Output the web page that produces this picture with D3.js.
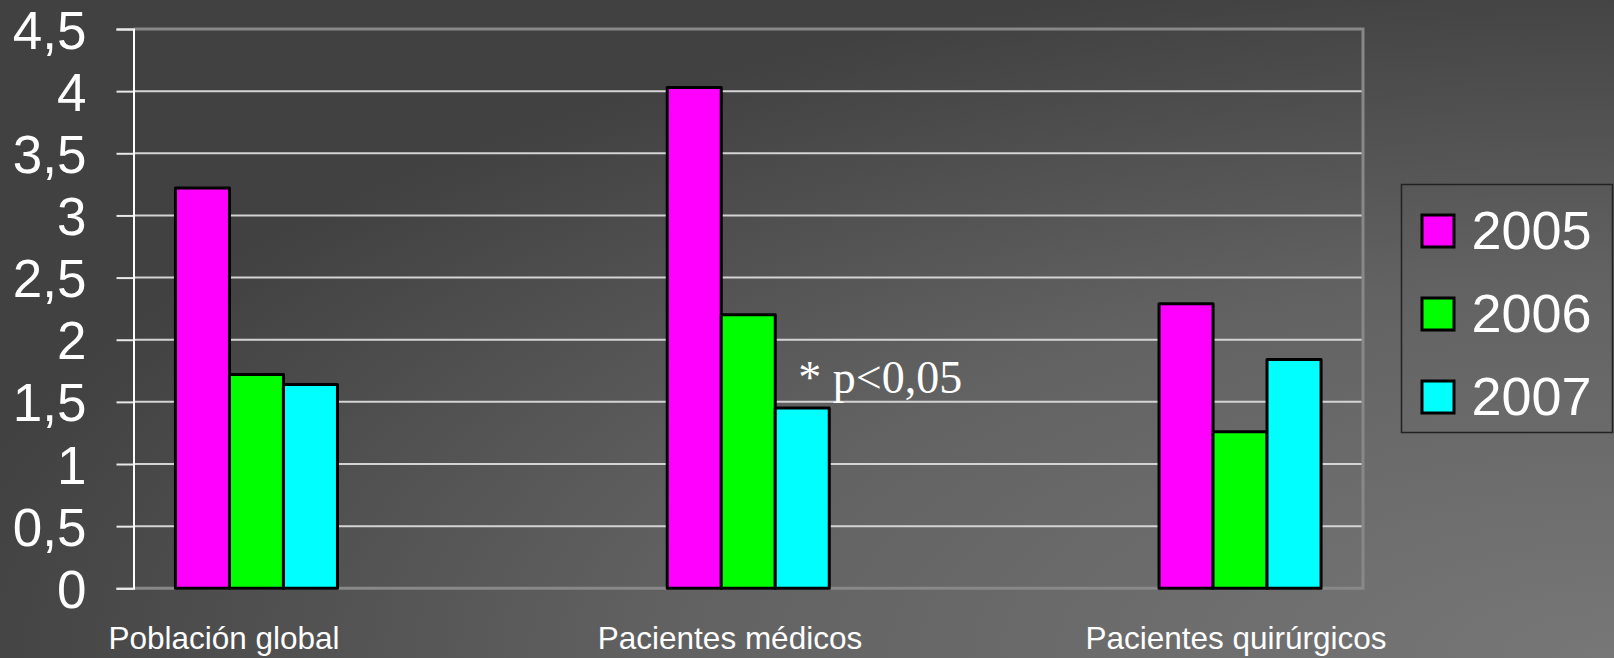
<!DOCTYPE html>
<html>
<head>
<meta charset="utf-8">
<script src="https://cdn.jsdelivr.net/npm/d3@7"></script>
<style>
  html, body { margin: 0; padding: 0; overflow: hidden; }
  body { width: 1614px; height: 658px; }
  text { font-family: "Liberation Sans", Arial, sans-serif; fill: #fff; }
</style>
</head>
<body>
<div id="chart"></div>
<script>
// data
var categories = ["Población global", "Pacientes médicos", "Pacientes quirúrgicos"];
var years = ["2005", "2006", "2007"];
var values2005 = [3.22, 4.03, 2.29];
var values2006 = [1.72, 2.20, 1.26];
var values2007 = [1.64, 1.45, 1.84];
var yTicks = [0, 0.5, 1, 1.5, 2, 2.5, 3, 3.5, 4, 4.5];
var colours = ["#ff00ff", "#00ff00", "#00ffff"];
var note = "* p<0,05";

var width = 1614, height = 658;
var plotLeft = 133.5, plotRight = 1363, plotTop = 29, plotBottom = 588.3;
var barW = 54;

var svg = d3.select("#chart").append("svg")
  .attr("width", width)
  .attr("height", height);

// background
var defs = svg.append("defs");
var grad = defs.append("radialGradient")
  .attr("id", "bg")
  .attr("cx", 1).attr("cy", 1).attr("r", 1.05)
  .attr("fx", 1).attr("fy", 1);
grad.append("stop").attr("offset", 0).attr("stop-color", "#777777");
grad.append("stop").attr("offset", 0.55).attr("stop-color", "#626262");
grad.append("stop").attr("offset", 1).attr("stop-color", "#414141");

svg.append("rect")
  .attr("width", width).attr("height", height)
  .attr("fill", "url(#bg)");

// scales
var x = d3.scalePoint().domain(categories).range([plotLeft, plotRight]).padding(0.25);
var labelX = d3.scalePoint().domain(categories).range([224, 1236]);
var y = d3.scaleLinear().domain([0, 4.5]).range([plotBottom, plotTop]);
var colour = d3.scaleOrdinal().domain(years).range(colours);

var series = [values2005, values2006, values2007];
var rows = [];
categories.forEach(function(c, i) {
  years.forEach(function(yr, j) {
    rows.push({cat: c, year: yr, idx: j, value: series[j][i]});
  });
});

// gridlines
svg.append("g").attr("class", "grid")
  .selectAll("line")
  .data(yTicks.filter(function(d) { return d > 0 && d < 4.5; }))
  .enter().append("line")
  .attr("x1", plotLeft).attr("x2", plotRight)
  .attr("y1", function(d) { return y(d); })
  .attr("y2", function(d) { return y(d); })
  .attr("stroke", "#d4d4d4")
  .attr("stroke-width", 2);

// plot frame (top, right, bottom in grey)
svg.append("path")
  .attr("d", "M" + plotLeft + "," + y(4.5) + "H" + plotRight + "V" + y(0) + "H" + plotLeft)
  .attr("fill", "none")
  .attr("stroke", "#888")
  .attr("stroke-width", 3);

// y axis
var yAxis = d3.axisLeft(y)
  .tickValues(yTicks)
  .tickSize(17)
  .tickPadding(30)
  .tickFormat(function(d) { return String(d).replace(".", ","); });

var ya = svg.append("g")
  .attr("transform", "translate(" + plotLeft + ",0)")
  .call(yAxis);
ya.select(".domain").attr("stroke", "#fff").attr("stroke-width", 2);
ya.selectAll(".tick line").attr("stroke", "#e8e8e8").attr("stroke-width", 2);
ya.selectAll(".tick text")
  .attr("font-size", 53)
  .attr("fill", "#fff")
  .attr("dy", "0.36em");

// bars
svg.append("g").attr("class", "bars")
  .selectAll("rect")
  .data(rows)
  .enter().append("rect")
  .attr("x", function(d) { return x(d.cat) + (d.idx - 1.5) * barW; })
  .attr("y", function(d) { return y(d.value); })
  .attr("width", barW)
  .attr("height", function(d) { return y(0) - y(d.value); })
  .attr("fill", function(d) { return colour(d.year); })
  .attr("stroke", "#000")
  .attr("stroke-width", 3)
  .attr("stroke-linejoin", "round");

// category labels
svg.append("g").attr("class", "xlabels")
  .selectAll("text")
  .data(categories)
  .enter().append("text")
  .attr("x", function(d) { return labelX(d); })
  .attr("y", 649)
  .attr("text-anchor", "middle")
  .attr("font-size", 31.5)
  .text(function(d) { return d; });

// significance note (serif)
svg.append("text")
  .attr("x", x(categories[1]) + 50)
  .attr("y", y(1.572))
  .style("font-family", "'Liberation Serif', 'Times New Roman', serif")
  .attr("font-size", 46)
  .text(note);

// legend
var legend = svg.append("g").attr("transform", "translate(1401.5,184.5)");
legend.append("rect")
  .attr("width", 211).attr("height", 248)
  .attr("fill", "none")
  .attr("stroke", "#222")
  .attr("stroke-width", 1.5);

var item = legend.selectAll("g.item")
  .data(years)
  .enter().append("g")
  .attr("class", "item")
  .attr("transform", function(d, i) { return "translate(0," + (46 + i * 83) + ")"; });

item.append("rect")
  .attr("x", 20.5).attr("y", -15.5)
  .attr("width", 32).attr("height", 32)
  .attr("fill", function(d) { return colour(d); })
  .attr("stroke", "#000")
  .attr("stroke-width", 3);

item.append("text")
  .attr("x", 70)
  .attr("y", 18)
  .attr("font-size", 54)
  .text(function(d) { return d; });
</script>
</body>
</html>
